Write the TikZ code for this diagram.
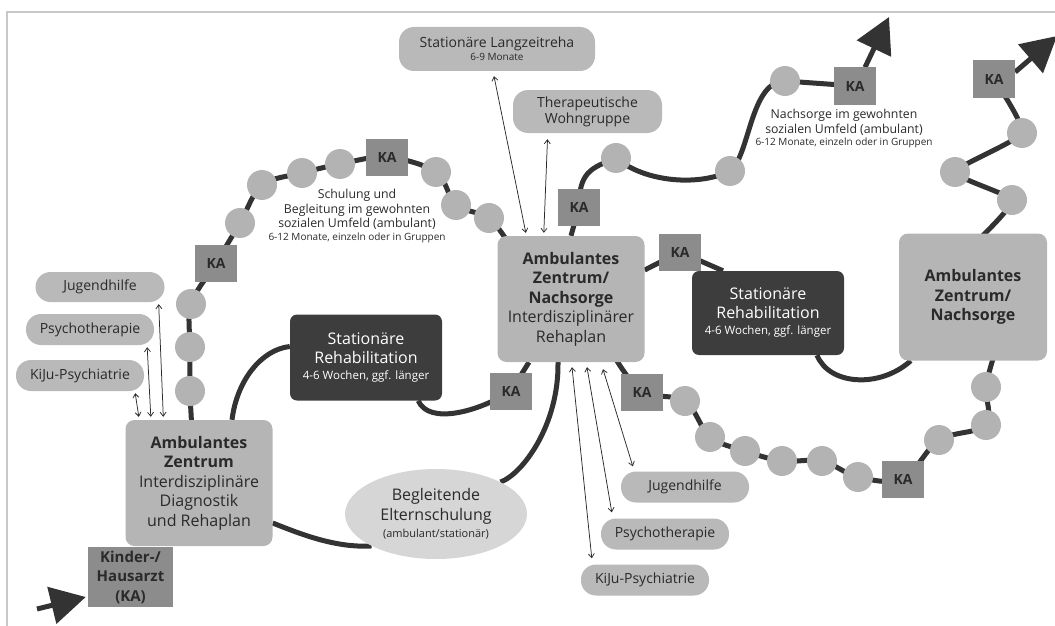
\documentclass[tikz,border=0pt]{standalone}
\usepackage{fontspec}
\setmainfont{Open Sans}
\usetikzlibrary{arrows.meta,backgrounds,shapes.geometric}
\definecolor{roadc}{HTML}{333333}
\definecolor{boxc}{HTML}{B5B5B5}
\definecolor{pillc}{HTML}{B9B9B9}
\definecolor{dotc}{HTML}{B3B3B3}
\definecolor{kac}{HTML}{8C8C8C}
\definecolor{rehac}{HTML}{3D3D3D}
\definecolor{ellc}{HTML}{D6D6D6}
\definecolor{txtc}{HTML}{2A2A2A}
\definecolor{framec}{HTML}{C8C8C8}
\tikzset{
  bigbox/.style={rectangle, rounded corners=9pt, fill=boxc, minimum width=147pt, minimum height=126pt, align=center, inner sep=0pt, text=txtc, font=\fontsize{16}{19.5}\selectfont},
  pill/.style={rectangle, rounded corners=15pt, fill=pillc, minimum height=31pt, minimum width=128pt, inner sep=0pt, align=center, text=txtc, font=\fontsize{14}{17}\selectfont},
  dot/.style={circle, fill=dotc, minimum size=30pt, inner sep=0pt},
  kabox/.style={rectangle, fill=kac, minimum width=42pt, minimum height=37pt, inner sep=0pt, text=txtc, font=\bfseries\fontsize{14}{16}\selectfont},
  kinder/.style={rectangle, fill=kac, minimum width=85pt, minimum height=60pt, inner sep=0pt, align=center, text=txtc, font=\bfseries\fontsize{15}{19.5}\selectfont},
  rehabox/.style={rectangle, rounded corners=7pt, fill=rehac, text=white, minimum width=152pt, minimum height=86pt, align=center, inner sep=0pt, font=\fontsize{16}{19}\selectfont},
  elli/.style={ellipse, fill=ellc, minimum width=182pt, minimum height=90pt, inner sep=0pt, align=center, text=txtc, font=\fontsize{16}{20}\selectfont},
  note/.style={align=center, inner sep=0pt, text=txtc, font=\fontsize{12.3}{14.5}\selectfont},
  road/.style={draw=roadc, line width=5pt},
  bigtip/.style={-{Triangle[length=35pt,width=37pt]}},
  tarrow/.style={draw=txtc, line width=0.75pt, >={Straight Barb[length=4pt,width=6pt]}, <->},
}
\begin{document}
\begin{tikzpicture}[x=1pt,y=-1pt]
\useasboundingbox (0,0) rectangle (1055,626);

% main boxes
\node[bigbox] (L) at (199,483) {\textbf{Ambulantes}\\\textbf{Zentrum}\\Interdisziplinäre\\Diagnostik\\und Rehaplan};
\node[bigbox] (M) at (571,299) {\textbf{Ambulantes}\\\textbf{Zentrum/}\\\textbf{Nachsorge}\\Interdisziplinärer\\Rehaplan};
\node[bigbox, minimum width=148pt, minimum height=127pt] (B) at (973,297) {\textbf{Ambulantes}\\\textbf{Zentrum/}\\\textbf{Nachsorge}};
\node[kinder] (K) at (130.5,577) {Kinder-/\\Hausarzt\\(KA)};

\node[rehabox] (RL) at (366,357.5) {Stationäre\\Rehabilitation\\[-3pt]{\fontsize{11.5}{14}\selectfont 4-6 Wochen, ggf. länger}};
\node[rehabox, minimum height=84pt] (RR) at (768,313) {Stationäre\\Rehabilitation\\[-3pt]{\fontsize{11.5}{14}\selectfont 4-6 Wochen, ggf. länger}};

\node[elli] (E) at (436,514) {Begleitende\\Elternschulung\\[-3pt]{\fontsize{11}{13}\selectfont (ambulant/stationär)}};

% pills
\node[pill, minimum width=196pt, minimum height=44pt] (LZ) at (497,49) {Stationäre Langzeitreha\\[-4pt]{\fontsize{10}{12}\selectfont 6-9 Monate}};
\node[pill, minimum width=149pt, minimum height=43pt, font=\fontsize{14}{16}\selectfont] (TW) at (587.5,111.5) {Therapeutische\\Wohngruppe};
\node[pill, minimum width=129pt, minimum height=30pt] (J1) at (100,287) {Jugendhilfe};
\node[pill] (P1) at (90,329.5) {Psychotherapie};
\node[pill] (K1) at (80,375.5) {KiJu-Psychiatrie};
\node[pill] (J2) at (685,487) {Jugendhilfe};
\node[pill] (P2) at (665,534) {Psychotherapie};
\node[pill] (K2) at (645,580) {KiJu-Psychiatrie};

% dots
\foreach \n/\x/\y in {c1/190/391, c2/190/347, c3/191/304, c4/240/223, c5/262/185, c6/302/173, c7/340/164, c8/436/172, c9/456/205, c10/489/218,
  c11/616/158, c12/730/171, c13/785/81,
  c14/685/401, c15/710/437, c16/745/451, c17/782/461, c18/822/461, c19/858/477, c20/939/440, c21/986/425, c22/986/387,
  c23/1012/200, c24/955/172, c25/1022/133}
  \node[dot] (\n) at (\x,\y) {};

% KA boxes
\foreach \n/\x/\y in {KA1/216/263, KA2/387/157, KA3/579/207, KA4/855/86, KA5/511/391, KA6/680/252, KA7/642/392, KA8/903/479, KA9/994/79}
  \node[kabox] (\n) at (\x,\y) {KA};

% notes
\node[note] (n1) at (357,216) {Schulung und\\Begleitung im gewohnten\\sozialen Umfeld (ambulant)\\[-2pt]{\fontsize{10}{12}\selectfont 6-12 Monate, einzeln oder in Gruppen}};
\node[note] (n2) at (844,129) {Nachsorge im gewohnten\\sozialen Umfeld (ambulant)\\[-2pt]{\fontsize{10}{12}\selectfont 6-12 Monate, einzeln oder in Gruppen}};

\coordinate (in0) at (37,609);
\coordinate (tipA) at (889,17);
\coordinate (tipB) at (1057,36);

% thin arrows
\draw[tarrow] ([shift={(-6,2)}]J1.south east) -- ([shift={(38,-3)}]L.north west);
\draw[tarrow] ([shift={(-7,2)}]P1.south east) -- ([shift={(25.5,-3)}]L.north west);
\draw[tarrow] ([shift={(-9,2)}]K1.south east) -- ([shift={(13.5,-3)}]L.north west);
\draw[tarrow] ([shift={(-3,5)}]LZ.south) -- ([shift={(28.5,-3)}]M.north west);
\draw[tarrow] ([shift={(-40,6)}]TW.south) -- ([shift={(46.5,-3)}]M.north west);
\draw[tarrow] ([shift={(1,5)}]M.south) -- ([shift={(11,-6)}]K2.north west);
\draw[tarrow] ([shift={(16,5)}]M.south) -- ([shift={(11,-6)}]P2.north west);
\draw[tarrow] ([shift={(32,7)}]M.south) -- ([shift={(12,-5)}]J2.north west);

\begin{scope}[on background layer]
  \draw[framec, line width=1.5pt] (7,626) -- (7,12) -- (1055,12);
  % left loop
  \draw[road] plot[smooth, tension=0.55] coordinates {([shift={(-7,10)}]L.north) (c1.center) (c2.center) (c3.center) (KA1.center) (c4.center) (c5.center) (c6.center) (c7.center) (KA2.center) (c8.center) (c9.center) (c10.center) ([shift={(-60,-52)}]M.center)};
  % L to left reha
  \draw[road] ([xshift=33]L.north) .. controls +(5,-40) and +(-28,3) .. ([shift={(0,-11)}]RL.west);
  \draw[road] ([xshift=-24]RL.south east) .. controls +(11,25) and +(-31,20) .. (KA5.center);
  \draw[road] (KA5.center) -- ([xshift=-42]M.south);
  % L to ellipse to M
  \draw[road] ([shift={(0,40)}]L.east) .. controls +(30,12) and +(-35,2) .. (E.south west);
  \draw[road] (E.north east) .. controls +(22,-8) and +(1,63) .. ([xshift=-13]M.south);
  % upper S
  \draw[road] (M.north) -- (KA3.center);
  \draw[road] (KA3.center) .. controls +(0,-35) and +(-25,10) .. (c11.center);
  \draw[road] (c11.center) .. controls +(30,25) and +(-30,15) .. (c12.center);
  \draw[road] (c12.center) .. controls +(20,-15) and +(-35,0) .. (c13.center);
  \draw[road] (c13.center) -- (KA4.center);
  \draw[road, bigtip] ([xshift=10]KA4.north) -- (tipA);
  % M to right reha to B
  \draw[road] ([shift={(0,-29)}]M.east) -- (KA6.center) -- ([xshift=-45]RR.north);
  \draw[road] ([xshift=49]RR.south) .. controls +(12,30) and +(-31,28) .. ([xshift=12]B.south west);
  % lower chain
  \draw[road] plot[smooth, tension=0.55] coordinates {([shift={(-30,-5)}]M.south east) (KA7.center) (c14.center) (c15.center) (c16.center) (c17.center) (c18.center) (c19.center) (KA8.center) (c20.center) (c21.center) (c22.center) ([shift={(21,-5)}]B.south)};
  % right chain
  \draw[road] plot[smooth, tension=0.3] coordinates {([shift={(7,5)}]B.north) (c23.center) (c24.center) (c25.center) (KA9.center)};
  \draw[road, bigtip] ([shift={(0,-7)}]KA9.east) -- (tipB);
  % entry arrow
  \draw[road, bigtip] (in0) -- ([shift={(-2,20)}]K.west);
\end{scope}
\end{tikzpicture}
\end{document}
